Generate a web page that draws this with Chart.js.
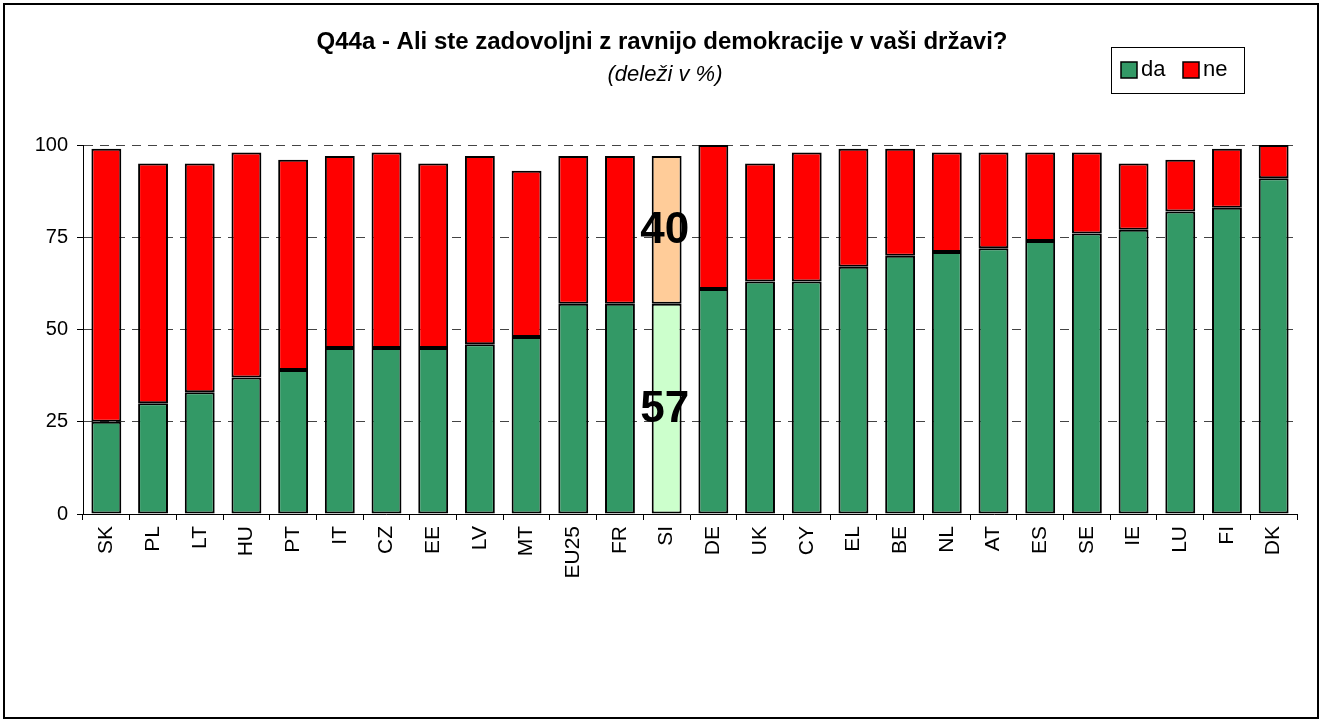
<!DOCTYPE html>
<html>
<head>
<meta charset="utf-8">
<script src="https://cdn.jsdelivr.net/npm/chart.js@4/dist/chart.umd.min.js"></script>
<style>
  html, body { margin: 0; padding: 0; background: #ffffff; }
  #wrap { position: absolute; left: 0; top: 0; width: 1325px; height: 720px; }
</style>
</head>
<body>
<div id="wrap"><canvas id="c"></canvas></div>
<script>
const categories = ['SK','PL','LT','HU','PT','IT','CZ','EE','LV','MT','EU25','FR','SI','DE','UK','CY','EL','BE','NL','AT','ES','SE','IE','LU','FI','DK'];
const daValues = [25,30,33,37,39,45,45,45,46,48,57,57,57,61,63,63,67,70,71,72,74,76,77,82,83,91];
const neValues = [74,65,62,61,57,52,53,50,51,45,40,40,40,39,32,35,32,29,27,26,24,22,18,14,16,9];
const seriesNames = ['da', 'ne'];
const yTicks = [0, 25, 50, 75, 100];
const highlight = 'SI';
const titleText = 'Q44a - Ali ste zadovoljni z ravnijo demokracije v vaši državi?';
const subtitleText = '(deleži v %)';

const FONT = '"Liberation Sans", Arial, sans-serif';
const GREEN = '#339966', RED = '#FF0000', LGREEN = '#CCFFCC', PEACH = '#FFCC99';

const daColors = categories.map(c => c === highlight ? LGREEN : GREEN);
const neColors = categories.map(c => c === highlight ? PEACH : RED);

const decorPlugin = {
  id: 'decor',
  afterDatasetsDraw(chart) {
    const ctx = chart.ctx;
    const idx = categories.indexOf(highlight);
    ctx.save();
    ctx.font = 'bold 44px ' + FONT;
    ctx.fillStyle = '#000';
    ctx.textAlign = 'center';
    ctx.textBaseline = 'middle';
    [0, 1].forEach(di => {
      const el = chart.getDatasetMeta(di).data[idx];
      const p = el.getProps(['x', 'y', 'base'], true);
      const val = chart.data.datasets[di].data[idx];
      ctx.fillText(String(val), p.x - 2, (p.y + p.base) / 2 + 1);
    });
    ctx.restore();
  },
  afterDraw(chart) {
    const ctx = chart.ctx;
    ctx.save();
    // frame
    ctx.strokeStyle = '#000';
    ctx.lineWidth = 2;
    ctx.strokeRect(4, 4, 1314, 714);
    // title
    ctx.fillStyle = '#000';
    ctx.textAlign = 'center';
    ctx.textBaseline = 'alphabetic';
    ctx.font = 'bold 24px ' + FONT;
    ctx.fillText(titleText, 662, 49);
    ctx.font = 'italic 22px ' + FONT;
    ctx.fillText(subtitleText, 665, 81);
    // legend
    ctx.lineWidth = 1;
    ctx.strokeStyle = '#000';
    ctx.strokeRect(1111.5, 47.5, 133, 46);
    const items = [[seriesNames[0], GREEN, 1121], [seriesNames[1], RED, 1183]];
    ctx.font = '22px ' + FONT;
    ctx.textAlign = 'left';
    ctx.textBaseline = 'middle';
    items.forEach(([name, col, x]) => {
      ctx.fillStyle = col;
      ctx.fillRect(x, 62, 16, 16);
      ctx.lineWidth = 1.5;
      ctx.strokeRect(x, 62, 16, 16);
      ctx.fillStyle = '#000';
      ctx.fillText(name, x + 20, 70);
    });
    ctx.restore();
  }
};

new Chart(document.getElementById('c'), {
  type: 'bar',
  data: {
    labels: categories,
    datasets: [
      { label: seriesNames[0], data: daValues, backgroundColor: daColors, borderColor: '#000', borderWidth: 2, borderSkipped: false, inflateAmount: 0 },
      { label: seriesNames[1], data: neValues, backgroundColor: neColors, borderColor: '#000', borderWidth: 2, borderSkipped: false, inflateAmount: 0 }
    ]
  },
  options: {
    responsive: true,
    maintainAspectRatio: false,
    animation: false,
    datasets: { bar: { categoryPercentage: 1, barPercentage: 0.64 } },
    layout: { padding: { top: 145, right: 28, bottom: 0, left: 0 } },
    plugins: { legend: { display: false }, tooltip: { enabled: false }, title: { display: false } },
    scales: {
      x: {
        stacked: true,
        afterFit: s => { s.height = 206; },
        grid: { display: true, drawOnChartArea: false, drawTicks: true, tickLength: 6, color: '#000', offset: true },
        border: { display: true, color: '#000', width: 1 },
        ticks: { minRotation: 90, maxRotation: 90, autoSkip: false, padding: 6, color: '#000', font: { family: FONT, size: 21 } }
      },
      y: {
        stacked: true,
        min: 0, max: 100,
        afterFit: s => { s.width = 83; },
        afterBuildTicks: s => { s.ticks = yTicks.map(v => ({ value: v })); },
        grid: { display: true, color: '#444', lineWidth: 1, drawTicks: true, tickLength: 6, tickColor: '#000', tickBorderDash: [] },
        border: { display: true, color: '#000', width: 1, dash: [9, 7] },
        ticks: { padding: 9, color: '#000', font: { family: FONT, size: 20 } }
      }
    }
  },
  plugins: [decorPlugin]
});
</script>
</body>
</html>
